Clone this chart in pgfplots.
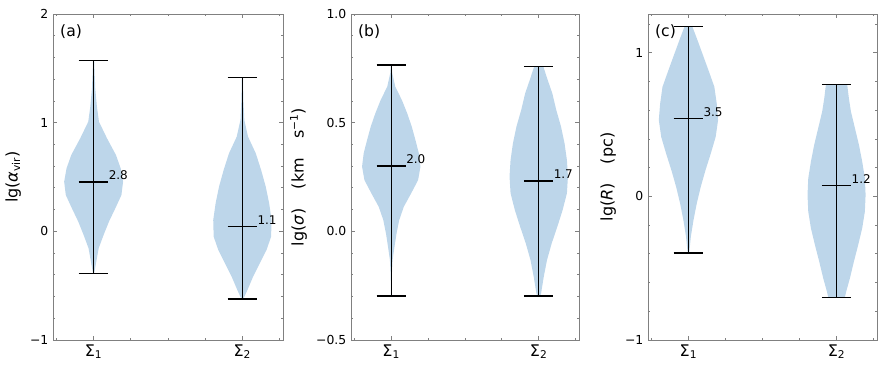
\documentclass[border=0pt]{standalone}
\usepackage{fontspec}
\setmainfont{DejaVu Sans}
\usepackage{pgfplots}
\usepackage{pgfplotstable}
\pgfplotsset{compat=1.18}

\definecolor{vfill}{RGB}{189,214,234}

% violin outlines: y, half width (closed on the centre line at both ends)
\pgfplotstableread{
y w
-0.386 0
-0.386 0.004
-0.340 0.010
-0.279 0.018
-0.156 0.034
-0.034 0.067
0.089 0.103
0.212 0.146
0.334 0.187
0.457 0.198
0.580 0.182
0.703 0.150
0.856 0.090
1.009 0.036
1.150 0.022
1.316 0.011
1.450 0.007
1.571 0.004
1.571 0
}\vaA
\pgfplotstableread{
y w
-0.623 0
-0.623 0.006
-0.540 0.034
-0.417 0.072
-0.294 0.117
-0.172 0.162
-0.049 0.193
0.104 0.196
0.258 0.180
0.411 0.157
0.564 0.126
0.718 0.090
0.871 0.038
1.025 0.013
1.200 0.007
1.417 0.004
1.417 0
}\vaB
\pgfplotstableread{
y w
-0.298 0
-0.298 0.002
-0.200 0.004
-0.132 0.009
-0.071 0.022
-0.009 0.036
0.052 0.054
0.113 0.085
0.175 0.135
0.236 0.182
0.298 0.198
0.359 0.187
0.420 0.164
0.482 0.139
0.543 0.108
0.604 0.072
0.666 0.027
0.727 0.007
0.765 0.003
0.765 0
}\vbA
\pgfplotstableread{
y w
-0.298 0
-0.298 0.010
-0.285 0.016
-0.209 0.034
-0.132 0.056
-0.055 0.088
0.021 0.126
0.098 0.162
0.175 0.191
0.252 0.198
0.328 0.191
0.405 0.175
0.482 0.151
0.558 0.119
0.635 0.092
0.696 0.061
0.758 0.031
0.758 0
}\vbB
\pgfplotstableread{
y w
-0.394 0
-0.394 0.004
-0.375 0.007
-0.282 0.016
-0.166 0.034
-0.050 0.056
0.066 0.083
0.182 0.115
0.299 0.151
0.415 0.184
0.531 0.200
0.647 0.191
0.763 0.175
0.879 0.135
0.995 0.094
1.088 0.061
1.181 0.027
1.181 0
}\vcA
\pgfplotstableread{
y w
-0.703 0
-0.703 0.056
-0.663 0.065
-0.570 0.090
-0.454 0.117
-0.338 0.146
-0.222 0.173
-0.106 0.191
0.010 0.196
0.127 0.191
0.243 0.173
0.359 0.151
0.475 0.124
0.591 0.097
0.684 0.083
0.777 0.072
0.777 0
}\vcB

\pgfplotsset{
  panel/.style={
    scale only axis, height=244.5pt, anchor=south west,
    xmin=0.727, xmax=2.273,
    xtick={1,2}, xticklabels={Σ\textsubscript{1},Σ\textsubscript{2}},
    minor xtick={0.75,1.25,1.5,1.75,2.25},
    axis line style={gray, line width=0.7pt},
    tick style={gray, line width=0.6pt},
    major tick length=3pt, minor tick length=1.6pt,
    y tick label style={font=\fontsize{9.3}{10}\selectfont},
    x tick label style={font=\fontsize{12}{13}\selectfont},
    ylabel style={font=\fontsize{12}{13}\selectfont},
  },
  half/.style={fill=vfill, draw=none},
}
\tikzset{
  vline/.style={black, line width=1pt},
  med/.style={anchor=base west, inner sep=0pt, yshift=1.6pt, font=\fontsize{9}{10}\selectfont},
  tag/.style={anchor=base west, inner sep=0pt, font=\fontsize{11.7}{12}\selectfont},
}

\begin{document}
\begin{tikzpicture}

% (a)
\begin{axis}[panel, at={(39.75pt,21.75pt)}, width=172.5pt,
    ymin=-1, ymax=2, ytick={-1,0,1,2}, yticklabels={−1,0,1,2},
    minor ytick={-0.8,-0.6,-0.4,-0.2,0.2,0.4,0.6,0.8,1.2,1.4,1.6,1.8},
    ylabel={lg(\textit{α}\textsubscript{vir})}]
\addplot[half] table[x expr=1+\thisrow{w}, y=y] {\vaA};
\addplot[half] table[x expr=1-\thisrow{w}, y=y] {\vaA};
\addplot[half] table[x expr=2+\thisrow{w}, y=y] {\vaB};
\addplot[half] table[x expr=2-\thisrow{w}, y=y] {\vaB};
\addplot[vline] coordinates {(1,-0.386) (1,1.571)};
\addplot[vline] coordinates {(0.9,-0.386) (1.1,-0.386)};
\addplot[vline] coordinates {(0.9,1.571) (1.1,1.571)};
\addplot[vline] coordinates {(0.9,0.454) (1.1,0.454)};
\addplot[vline] coordinates {(2,-0.623) (2,1.417)};
\addplot[vline] coordinates {(1.9,-0.623) (2.1,-0.623)};
\addplot[vline] coordinates {(1.9,1.417) (2.1,1.417)};
\addplot[vline] coordinates {(1.9,0.043) (2.1,0.043)};
\node[med] at (axis cs:1.1,0.454) {2.8};
\node[med] at (axis cs:2.1,0.043) {1.1};
\node[tag] at (rel axis cs:0.03,0.932) {(a)};
\end{axis}

% (b)
\begin{axis}[panel, at={(263.25pt,21.75pt)}, width=171pt,
    ymin=-0.5, ymax=1.0, ytick={-0.5,0,0.5,1.0}, yticklabels={−0.5,0.0,0.5,1.0},
    minor ytick={-0.4,-0.3,-0.2,-0.1,0.1,0.2,0.3,0.4,0.6,0.7,0.8,0.9},
    ylabel={lg(\textit{σ})\hspace{1.2em}(km\hspace{1.2em}s\textsuperscript{−1})}]
\addplot[half] table[x expr=1+\thisrow{w}, y=y] {\vbA};
\addplot[half] table[x expr=1-\thisrow{w}, y=y] {\vbA};
\addplot[half] table[x expr=2+\thisrow{w}, y=y] {\vbB};
\addplot[half] table[x expr=2-\thisrow{w}, y=y] {\vbB};
\addplot[vline] coordinates {(1,-0.298) (1,0.765)};
\addplot[vline] coordinates {(0.9,-0.298) (1.1,-0.298)};
\addplot[vline] coordinates {(0.9,0.765) (1.1,0.765)};
\addplot[vline] coordinates {(0.9,0.301) (1.1,0.301)};
\addplot[vline] coordinates {(2,-0.298) (2,0.758)};
\addplot[vline] coordinates {(1.9,-0.298) (2.1,-0.298)};
\addplot[vline] coordinates {(1.9,0.758) (2.1,0.758)};
\addplot[vline] coordinates {(1.9,0.232) (2.1,0.232)};
\node[med] at (axis cs:1.1,0.301) {2.0};
\node[med] at (axis cs:2.1,0.232) {1.7};
\node[tag] at (rel axis cs:0.03,0.932) {(b)};
\end{axis}

% (c)
\begin{axis}[panel, at={(486pt,21.75pt)}, width=171.75pt,
    ymin=-1, ymax=1.27, ytick={-1,0,1}, yticklabels={−1,0,1},
    minor ytick={-0.8,-0.6,-0.4,-0.2,0.2,0.4,0.6,0.8,1.2},
    ylabel={lg(\textit{R})\hspace{1.2em}(pc)}]
\addplot[half] table[x expr=1+\thisrow{w}, y=y] {\vcA};
\addplot[half] table[x expr=1-\thisrow{w}, y=y] {\vcA};
\addplot[half] table[x expr=2+\thisrow{w}, y=y] {\vcB};
\addplot[half] table[x expr=2-\thisrow{w}, y=y] {\vcB};
\addplot[vline] coordinates {(1,-0.394) (1,1.181)};
\addplot[vline] coordinates {(0.9,-0.394) (1.1,-0.394)};
\addplot[vline] coordinates {(0.9,1.181) (1.1,1.181)};
\addplot[vline] coordinates {(0.9,0.542) (1.1,0.542)};
\addplot[vline] coordinates {(2,-0.703) (2,0.777)};
\addplot[vline] coordinates {(1.9,-0.703) (2.1,-0.703)};
\addplot[vline] coordinates {(1.9,0.777) (2.1,0.777)};
\addplot[vline] coordinates {(1.9,0.078) (2.1,0.078)};
\node[med] at (axis cs:1.1,0.542) {3.5};
\node[med] at (axis cs:2.1,0.078) {1.2};
\node[tag] at (rel axis cs:0.03,0.932) {(c)};
\end{axis}

\pgfresetboundingbox
\path[use as bounding box] (0,0) rectangle (664.5pt,276.75pt);
\end{tikzpicture}
\end{document}
